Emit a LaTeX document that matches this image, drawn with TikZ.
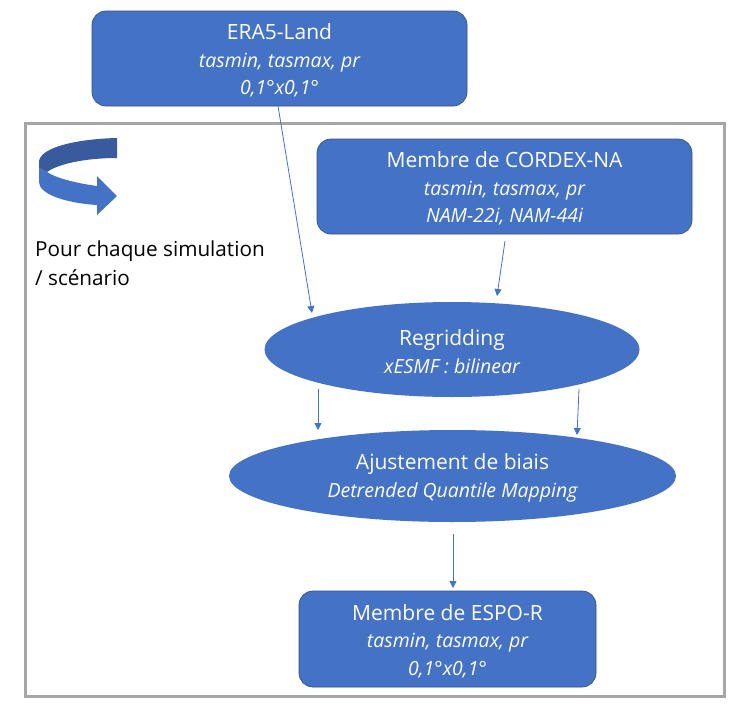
\documentclass[tikz,border=0pt]{standalone}
\usepackage{fontspec}
\setmainfont{Open Sans}
\usetikzlibrary{arrows.meta,shapes.geometric}
\definecolor{bluefill}{HTML}{4472C4}
\definecolor{blueline}{HTML}{2F528F}
\definecolor{bluedark}{HTML}{375B9D}
\newcommand{\titlefont}{\fontsize{21}{27.5}\selectfont}
\newcommand{\subfont}{\fontsize{19.5}{27.5}\selectfont\itshape}
\newcommand{\toplift}{\rule{0pt}{20pt}}
\tikzset{
  databox/.style={draw=blueline,fill=bluefill,rounded corners=14pt,text=white,align=center,inner sep=0pt,line width=0.7pt,font=\titlefont},
  procell/.style={ellipse,fill=bluefill,text=white,align=center,inner sep=0pt,font=\titlefont},
  flow/.style={draw=bluefill,line width=0.8pt,-{Triangle[length=7pt,width=7pt]}}
}
\begin{document}
\begin{tikzpicture}[x=1pt,y=-1pt]
\useasboundingbox (0,0) rectangle (739,720);
\fill[white] (0,0) rectangle (739,720);
\draw[color=black!35,line width=3pt] (25,123) rectangle (724,696);

\node[databox,minimum width=375pt,minimum height=95pt] (era) at (279.5,58.5) {\toplift ERA5-Land\\ \subfont tasmin, tasmax, pr\\ \subfont 0,1°x0,1°};
\node[databox,minimum width=375pt,minimum height=95pt] (cordex) at (504.5,186.5) {\toplift Membre de CORDEX-NA\\ \subfont tasmin, tasmax, pr\\ \subfont NAM-22i, NAM-44i};
\node[procell,minimum width=375pt,minimum height=95pt] (regrid) at (452,349.5) {\toplift Regridding\\ \subfont xESMF : bilinear};
\node[procell,minimum width=447pt,minimum height=92pt] (biais) at (452.5,476) {\toplift Ajustement de biais\\ \subfont Detrended Quantile Mapping};
\node[databox,minimum width=297pt,minimum height=96pt] (espo) at (447.5,639) {\toplift Membre de ESPO-R\\ \subfont tasmin, tasmax, pr\\ \subfont 0,1°x0,1°};

% free ends of the arrows
\coordinate (eraout) at (278,106);
\coordinate (regridinl) at (312,313);
\coordinate (cordexout) at (505,241);
\coordinate (regridinr) at (497,296);
\coordinate (regridoutl) at (318,389);
\coordinate (biaisinl) at (318,430);
\coordinate (regridoutr) at (579,389);
\coordinate (biaisinr) at (577,435);
\coordinate (biaisout) at (453,534);
\coordinate (espoin) at (453,588);

\draw[flow] (eraout) -- (regridinl);
\draw[flow] (cordexout) -- (regridinr);
\draw[flow] (regridoutl) -- (biaisinl);
\draw[flow] (regridoutr) -- (biaisinr);
\draw[flow] (biaisout) -- (espoin);

% turning arrow
\fill[bluedark] (117,138) .. controls (75,139) and (39,148) .. (39,162) -- (39,168) -- (47,172) .. controls (58,164) and (85,158) .. (117,158) -- cycle;
\fill[bluefill] (39,168) -- (47,172) .. controls (56,178) and (75,183) .. (97,186) -- (97,176) -- (117,196) -- (97,215) -- (97,205) .. controls (65,203) and (39,194) .. (39,182) -- cycle;

\node[anchor=north west,align=left,inner sep=0pt,font=\fontsize{20.7}{29}\selectfont] (boucle) at (35,241) {Pour chaque simulation\\/ scénario};
\end{tikzpicture}
\end{document}
